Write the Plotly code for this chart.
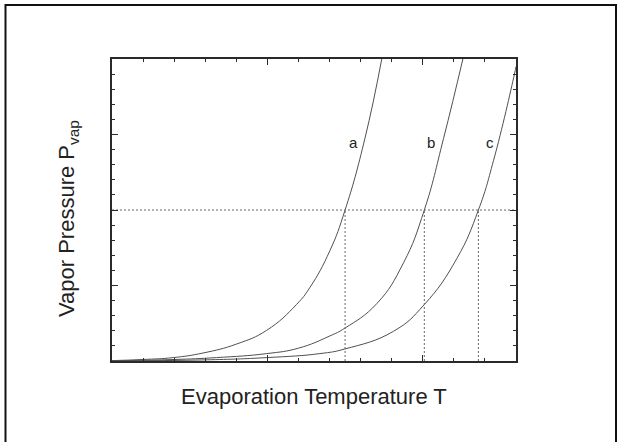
import plotly.graph_objects as go

# Curve data (x: temperature units, y: pressure units)
a_x = [0.0, 1.0, 1.97, 2.93, 4.01, 4.98, 5.94, 6.37, 7.01, 7.50, 8.14, 8.68]
a_y = [0.005, 0.02, 0.045, 0.106, 0.225, 0.407, 0.750, 0.975, 1.46, 2.00, 2.95, 4.0]

b_x = [0.0, 2.0, 3.36, 4.98, 6.0, 7.0, 7.50, 8.52, 9.38, 10.05, 10.67, 11.29]
b_y = [0.002, 0.02, 0.045, 0.098, 0.17, 0.33, 0.437, 0.760, 1.30, 2.00, 2.95, 4.0]

c_x = [0.0, 3.0, 4.98, 6.69, 7.50, 9.06, 10.05, 11.10, 11.79, 12.28, 12.95, 13.0]
c_y = [0.001, 0.015, 0.045, 0.098, 0.160, 0.394, 0.748, 1.36, 2.00, 2.66, 3.80, 3.90]

labels = ["a", "b", "c"]
label_x = [7.77, 10.27, 12.17]
label_y = [2.90, 2.90, 2.90]

p_target = 2.0
t_cross = [7.50, 10.05, 11.79]

x_range = [0, 13]
y_range = [0, 4]

fig = go.Figure()

curve_color = "#505050"
for xs, ys in [(a_x, a_y), (b_x, b_y), (c_x, c_y)]:
    fig.add_trace(go.Scatter(x=xs, y=ys, mode="lines",
                             line=dict(color=curve_color, width=1, shape="spline", smoothing=1.3),
                             hoverinfo="skip", showlegend=False))

# horizontal reference line
fig.add_trace(go.Scatter(x=x_range, y=[p_target, p_target], mode="lines",
                         line=dict(color="#666666", width=1, dash="2px,2px"),
                         hoverinfo="skip", showlegend=False))
# vertical reference lines
for t in t_cross:
    fig.add_trace(go.Scatter(x=[t, t], y=[0, p_target], mode="lines",
                             line=dict(color="#666666", width=1, dash="2px,2px"),
                             hoverinfo="skip", showlegend=False))

for lab, lx, ly in zip(labels, label_x, label_y):
    fig.add_annotation(x=lx, y=ly, text=lab, showarrow=False,
                       font=dict(family="Arial, Liberation Sans", size=15, color="#222"),
                       xanchor="center", yanchor="middle")

axis_common = dict(showgrid=False, zeroline=False, showline=True, linecolor="#2a2a2a",
                   linewidth=1.5, mirror="ticks", ticks="inside", ticklen=6, tickwidth=1,
                   tickcolor="#2a2a2a", showticklabels=False, fixedrange=True)

fig.update_xaxes(range=x_range, dtick=5, tick0=0,
                 minor=dict(ticks="inside", ticklen=3, dtick=1, tick0=0, tickcolor="#2a2a2a", showgrid=False),
                 **axis_common)
fig.update_yaxes(range=y_range, dtick=1, tick0=0,
                 minor=dict(ticks="inside", ticklen=3, dtick=0.2, tick0=0, tickcolor="#2a2a2a", showgrid=False),
                 **axis_common)

W, H = 620, 442
L, R, T, B = 112, 104, 59, 81
pw, ph = W - L - R, H - T - B

def px_to_paper_x(px):
    return (px - L) / pw

def px_to_paper_y(py):
    return (H - B - py) / ph

fig.add_annotation(x=0.5, y=px_to_paper_y(396), xref="paper", yref="paper",
                   text="Evaporation Temperature T", showarrow=False,
                   font=dict(family="Arial, Liberation Sans", size=22, color="#222"),
                   xanchor="center", yanchor="middle")
fig.add_annotation(x=px_to_paper_x(68), y=px_to_paper_y(219), xref="paper", yref="paper",
                   text="Vapor Pressure P<sub>vap</sub>", showarrow=False, textangle=-90,
                   font=dict(family="Arial, Liberation Sans", size=22, color="#222"),
                   xanchor="center", yanchor="middle")

# outer frame
fig.add_shape(type="rect", xref="paper", yref="paper",
              x0=px_to_paper_x(5.5), x1=px_to_paper_x(616), y0=px_to_paper_y(460), y1=px_to_paper_y(5),
              line=dict(color="#111", width=2), fillcolor="rgba(0,0,0,0)", layer="below")

fig.update_layout(width=W, height=H, margin=dict(l=L, r=R, t=T, b=B),
                  paper_bgcolor="white", plot_bgcolor="white", showlegend=False)

fig.write_html("out.html")
